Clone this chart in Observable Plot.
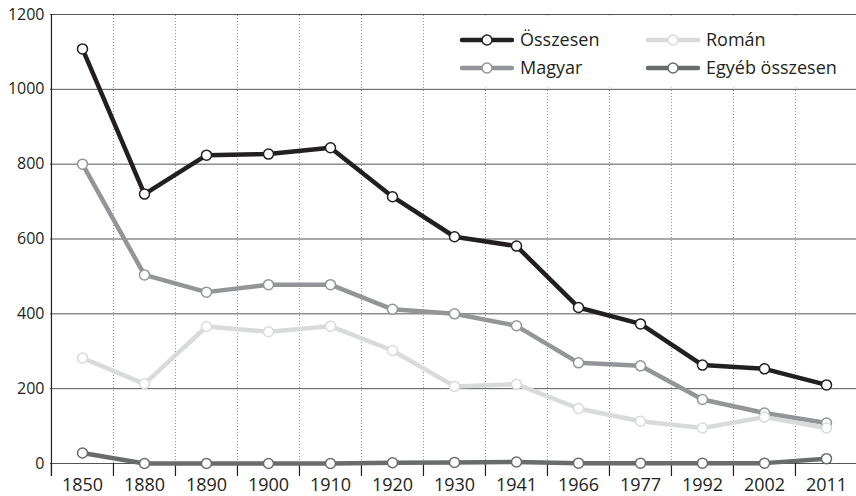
<!DOCTYPE html>
<html>
<head>
<meta charset="utf-8">
<script src="https://cdn.jsdelivr.net/npm/d3@7"></script>
<script src="https://cdn.jsdelivr.net/npm/@observablehq/plot@0.6"></script>
<style>
  html, body { margin: 0; padding: 0; background: #fff; }
  #chart svg { display: block; }
</style>
</head>
<body>
<div id="chart"></div>
<script>
const years = ["1850","1880","1890","1900","1910","1920","1930","1941","1966","1977","1992","2002","2011"];
const osszesen = [1108, 720, 824, 827, 844, 713, 606, 581, 417, 373, 263, 253, 210];
const magyar   = [800, 504, 458, 478, 478, 412, 400, 368, 269, 261, 171, 135, 108];
const roman    = [282, 213, 366, 352, 367, 302, 206, 212, 147, 113, 95, 124, 95];
const egyeb    = [28, 0, 0, 0, 0, 2, 3, 4, 1, 1, 1, 1, 13];
const seriesNames  = ["Összesen", "Magyar", "Román", "Egyéb összesen"];
const seriesColors = ["#231f20", "#939598", "#d9dadb", "#6a6b6d"];
const yTicks = [0, 200, 400, 600, 800, 1000, 1200];

const W = 856, H = 496, mL = 50, mR = -1, mT = 14, mB = 33;
const step = (W - mR - mL) / years.length;

const seriesValues = [osszesen, magyar, roman, egyeb];
const drawOrder = [3, 1, 2, 0];
const data = [];
for (const s of drawOrder) {
  years.forEach((yr, i) => data.push({year: yr, value: seriesValues[s][i], series: seriesNames[s]}));
}

const plot = Plot.plot({
  width: W, height: H,
  marginLeft: mL, marginRight: mR, marginTop: mT, marginBottom: mB,
  style: {fontFamily: "'Open Sans', sans-serif", fontSize: "16px", color: "#231f20", background: "#fff", overflow: "visible"},
  x: {type: "point", domain: years, padding: 0.5, label: null, axis: null},
  y: {domain: [0, 1200], label: null, axis: null},
  color: {domain: seriesNames, range: seriesColors},
  marks: [
    Plot.ruleX(years.slice(1), {x: d => d, dx: -step / 2, y1: 0, y2: 1200, stroke: "#8f8f8f", strokeDasharray: "1,2", strokeWidth: 1}),
    Plot.ruleY(yTicks, {stroke: "#555", strokeWidth: 1}),
    Plot.ruleX(years, {x: d => d, dx: -step / 2, y1: 0, y2: 0, insetBottom: -13, stroke: "#231f20", strokeWidth: 1.2}),
    Plot.ruleX(years.slice(0, 1), {x: d => d, dx: -step / 2, insetBottom: -13, stroke: "#231f20", strokeWidth: 1.2}),
    Plot.axisY({ticks: yTicks, tickSize: 0, tickPadding: 6, fontSize: 16, tickFormat: d => String(d), fill: "#231f20"}),
    Plot.axisX({tickSize: 0, tickPadding: 15, fontSize: 18, fill: "#231f20"}),
    Plot.line(data, {x: "year", y: "value", z: "series", stroke: "series", strokeWidth: 4.5, strokeLinejoin: "round"}),
    Plot.dot(data, {x: "year", y: "value", stroke: "series", fill: "white", r: 5, strokeWidth: 1.5})
  ]
});

// Legend inside the plot, top right
const svg = d3.select(plot);
const lg = svg.append("g");
lg.append("rect").attr("x", 445).attr("y", 15.5).attr("width", 411).attr("height", 72).attr("fill", "#fff");
const legendPos = [
  {x: 462, y: 40}, {x: 462, y: 68}, {x: 648, y: 40}, {x: 648, y: 68}
];
seriesNames.forEach((name, i) => {
  const p = legendPos[i];
  lg.append("line").attr("x1", p.x).attr("x2", p.x + 50).attr("y1", p.y).attr("y2", p.y)
    .attr("stroke", seriesColors[i]).attr("stroke-width", 4.5).attr("stroke-linecap", "round");
  lg.append("circle").attr("cx", p.x + 25).attr("cy", p.y).attr("r", 5)
    .attr("fill", "#fff").attr("stroke", seriesColors[i]).attr("stroke-width", 1.5);
  lg.append("text").attr("x", p.x + 58).attr("y", p.y).attr("dy", "0.35em")
    .attr("text-anchor", "start")
    .attr("font-family", "'Open Sans', sans-serif").attr("font-size", 18).attr("fill", "#231f20")
    .text(name);
});

document.getElementById("chart").appendChild(plot);
</script>
</body>
</html>
